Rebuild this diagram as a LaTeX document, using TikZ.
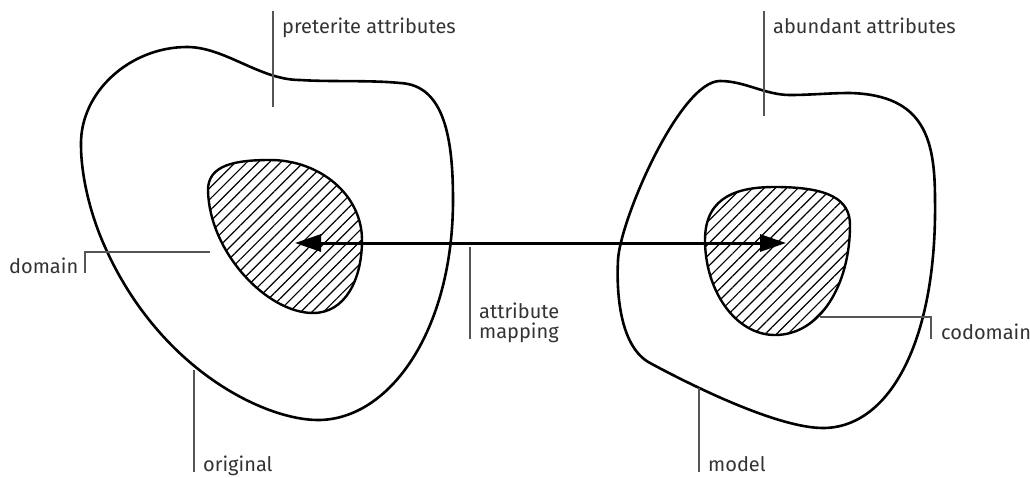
\documentclass[tikz,border=0pt]{standalone}
\usepackage{fontspec}
\setmainfont{Fira Sans}
\usetikzlibrary{arrows.meta,patterns.meta}
\definecolor{txt}{HTML}{333333}
\definecolor{lead}{HTML}{555555}
\tikzset{
  blob/.style={line width=2.6pt, line join=round},
  hatch/.style={line width=2.4pt, pattern={Lines[angle=45,distance=8pt,line width=1.2pt]}},
  leader/.style={lead, line width=1.1pt},
  lbl/.style={text=txt, font=\fontsize{20}{20}\selectfont, inner sep=0pt, anchor=base west},
  maparrow/.style={line width=3pt, {Triangle[length=26pt,width=17pt]}-{Triangle[length=26pt,width=17pt]}}
}
\begin{document}
\begin{tikzpicture}[x=1pt,y=-1pt]
\useasboundingbox (0,0) rectangle (1030,477);
% outer blob: original
\draw[blob] (81,145) .. controls (80,92) and (130,47) .. (187,47)
  .. controls (225,47) and (260,80) .. (300,80)
  .. controls (330,82) and (370,80) .. (400,83)
  .. controls (445,85) and (453,140) .. (453,200)
  .. controls (453,330) and (390,420) .. (318,420)
  .. controls (265,420) and (160,370) .. (105,247)
  .. controls (90,214) and (81,175) .. cycle;
% outer blob: model
\draw[blob] (720,81) .. controls (745,81) and (765,95) .. (790,95)
  .. controls (810,95) and (830,93) .. (850,93)
  .. controls (925,95) and (935,140) .. (935,200)
  .. controls (937,340) and (890,428) .. (823,428)
  .. controls (780,428) and (700,390) .. (650,363)
  .. controls (622,348) and (616,300) .. (618,260)
  .. controls (620,220) and (680,81) .. cycle;
% hatched inner regions
\draw[hatch] (208,190) .. controls (208,165) and (235,160) .. (270,160)
  .. controls (320,160) and (362,195) .. (362,240)
  .. controls (362,280) and (345,313) .. (313,313)
  .. controls (267,313) and (209,252) .. cycle;
\draw[hatch] (705,240) .. controls (705,195) and (740,187) .. (775,187)
  .. controls (830,187) and (850,200) .. (850,225)
  .. controls (850,285) and (820,335) .. (775,335)
  .. controls (735,335) and (705,290) .. cycle;
% mapping arrow
\coordinate (dc) at (295,243);
\coordinate (cc) at (786,243);
\draw[maparrow] (dc) -- (cc);
% labels
\node[lbl] (pre) at (282,33) {preterite attributes};
\node[lbl] (abu) at (773,33) {abundant attributes};
\node[lbl] (dom) at (9,273) {domain};
\node[lbl] (ori) at (203,471) {original};
\node[lbl] (mod) at (708,471) {model};
\node[lbl] (am1) at (479,318) {attribute};
\node[lbl] (am2) at (479,338) {mapping};
\node[lbl] (cod) at (941,339) {codomain};
% leaders
\coordinate (p1) at (273,11); \coordinate (p2) at (273,107);
\draw[leader] (p1) -- (p2);
\coordinate (a1) at (764,11); \coordinate (a2) at (764,116);
\draw[leader] (a1) -- (a2);
\coordinate (d1) at (210,252); \coordinate (d2) at (85,273);
\draw[leader] (d1) -| (d2);
\coordinate (o1) at (194,370); \coordinate (o2) at (194,472);
\draw[leader] (o1) -- (o2);
\coordinate (m1) at (699,388); \coordinate (m2) at (699,472);
\draw[leader] (m1) -- (m2);
\coordinate (t1) at (470,247); \coordinate (t2) at (470,339);
\draw[leader] (t1) -- (t2);
\coordinate (c1) at (820,317); \coordinate (c2) at (931,339);
\draw[leader] (c1) -| (c2);
\end{tikzpicture}
\end{document}
